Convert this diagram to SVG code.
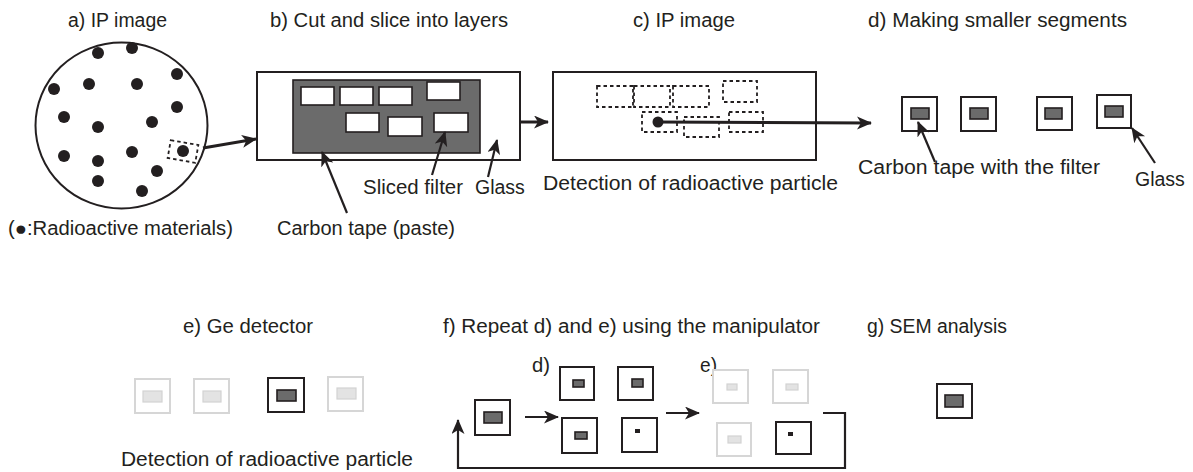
<svg xmlns="http://www.w3.org/2000/svg" width="1193" height="472" viewBox="0 0 1193 472">
<defs>
<style>
text{font-family:"Liberation Sans",Arial,sans-serif;font-size:19.5px;fill:#231f20}
.ln{fill:none;stroke:#231f20;stroke-width:2}
.ar{fill:none;stroke:#231f20;stroke-width:2.2;marker-end:url(#ah)}
.ar3{fill:none;stroke:#231f20;stroke-width:3;marker-end:url(#ah)}
.dash{fill:none;stroke:#231f20;stroke-width:1.8;stroke-dasharray:3.5 3}
.dot{fill:#231f20}
.glass{fill:#fff;stroke:#231f20;stroke-width:2}
.tape{fill:#6b6b6b;stroke:#231f20;stroke-width:1.6}
.slice{fill:#fff;stroke:#231f20;stroke-width:1.6}
.gl{fill:#fff;stroke:#d6d6d6;stroke-width:2}
.tl{fill:#e3e3e3;stroke:#d2d2d2;stroke-width:1.2}
</style>
<marker id="ah" markerUnits="userSpaceOnUse" markerWidth="16" markerHeight="14" refX="14" refY="6.5" orient="auto">
<path d="M0,0 L15,6.5 L0,13 L4,6.5 Z" fill="#231f20"/>
</marker>
</defs>

<g id="a-ip-image">
<text x="68" y="27" textLength="99" lengthAdjust="spacingAndGlyphs">a) IP image</text>
<ellipse cx="121.5" cy="125.5" rx="86" ry="83" class="ln"/>
<circle cx="98" cy="53" r="6" class="dot"/>
<circle cx="132" cy="48" r="6" class="dot"/>
<circle cx="177" cy="74" r="6" class="dot"/>
<circle cx="54" cy="89" r="6" class="dot"/>
<circle cx="89" cy="84" r="6" class="dot"/>
<circle cx="137" cy="84" r="6" class="dot"/>
<circle cx="177" cy="107" r="6" class="dot"/>
<circle cx="64" cy="117" r="6" class="dot"/>
<circle cx="98" cy="127" r="6" class="dot"/>
<circle cx="152" cy="122" r="6" class="dot"/>
<circle cx="64" cy="156" r="6" class="dot"/>
<circle cx="98" cy="161" r="6" class="dot"/>
<circle cx="132" cy="152" r="6" class="dot"/>
<circle cx="183" cy="151" r="6" class="dot"/>
<circle cx="157" cy="171" r="6" class="dot"/>
<circle cx="98" cy="181" r="6" class="dot"/>
<circle cx="142" cy="191" r="6" class="dot"/>
<rect x="169" y="142.5" width="28" height="18" transform="rotate(10 183 151.5)" class="dash"/>
<text x="8" y="235" textLength="225" lengthAdjust="spacingAndGlyphs">(●:Radioactive materials)</text>
</g>

<g id="b-cut-slice">
<text x="270" y="27" textLength="238" lengthAdjust="spacingAndGlyphs">b) Cut and slice into layers</text>
<rect x="257" y="72" width="263" height="88" class="glass"/>
<rect x="293" y="80" width="187" height="73" class="tape"/>
<rect x="301" y="87" width="33" height="18" class="slice"/>
<rect x="340" y="87" width="33" height="18" class="slice"/>
<rect x="379" y="87" width="33" height="18" class="slice"/>
<rect x="427" y="82" width="33" height="18" class="slice"/>
<rect x="346" y="113" width="33" height="19" class="slice"/>
<rect x="388" y="117" width="34" height="19" class="slice"/>
<rect x="434" y="113" width="34" height="19" class="slice"/>
<text x="363" y="194" textLength="100" lengthAdjust="spacingAndGlyphs">Sliced filter</text>
<text x="475" y="194">Glass</text>
<text x="277" y="235" textLength="178" lengthAdjust="spacingAndGlyphs">Carbon tape (paste)</text>
</g>

<g id="c-ip-image">
<text x="633" y="27" textLength="102" lengthAdjust="spacingAndGlyphs">c) IP image</text>
<rect x="553" y="72" width="263" height="88" class="glass"/>
<rect x="597" y="86" width="36" height="21" class="dash"/>
<rect x="634" y="86" width="36" height="21" class="dash"/>
<rect x="673" y="86" width="36" height="21" class="dash"/>
<rect x="723" y="81" width="34" height="21" class="dash"/>
<rect x="642" y="112" width="35" height="20" class="dash"/>
<rect x="684" y="117" width="35" height="20" class="dash"/>
<rect x="729" y="112" width="34" height="20" class="dash"/>
<circle cx="658" cy="122" r="5.5" class="dot"/>
<text x="543" y="190" textLength="295" lengthAdjust="spacingAndGlyphs">Detection of radioactive particle</text>
</g>

<g id="d-segments">
<text x="868" y="27" textLength="259" lengthAdjust="spacingAndGlyphs">d) Making smaller segments</text>
<rect x="902" y="97" width="35" height="34" class="glass"/>
<rect x="911" y="108" width="18" height="11" class="tape"/>
<rect x="961" y="97" width="35" height="34" class="glass"/>
<rect x="970" y="108" width="18" height="11" class="tape"/>
<rect x="1037" y="97" width="35" height="33" class="glass"/>
<rect x="1045" y="108" width="17" height="11" class="tape"/>
<rect x="1097" y="95" width="34" height="33" class="glass"/>
<rect x="1105" y="106" width="18" height="11" class="tape"/>
<text x="858" y="174" textLength="242" lengthAdjust="spacingAndGlyphs">Carbon tape with the filter</text>
<text x="1135" y="186">Glass</text>
</g>

<g id="e-ge-detector">
<text x="183" y="333" textLength="130" lengthAdjust="spacingAndGlyphs">e) Ge detector</text>
<rect x="135" y="379" width="35" height="34" class="gl"/>
<rect x="143" y="391" width="19" height="11" class="tl"/>
<rect x="194" y="379" width="35" height="34" class="gl"/>
<rect x="203" y="391" width="18" height="11" class="tl"/>
<rect x="268" y="378" width="36" height="34" class="glass"/>
<rect x="277" y="390" width="19" height="11" class="tape"/>
<rect x="328" y="377" width="35" height="34" class="gl"/>
<rect x="337" y="388" width="19" height="11" class="tl"/>
<text x="121" y="466" textLength="292" lengthAdjust="spacingAndGlyphs">Detection of radioactive particle</text>
</g>

<g id="f-repeat">
<text x="443" y="333" textLength="377" lengthAdjust="spacingAndGlyphs">f) Repeat d) and e) using the manipulator</text>
<text x="532" y="372" textLength="18" lengthAdjust="spacingAndGlyphs">d)</text>
<text x="700" y="372" textLength="17" lengthAdjust="spacingAndGlyphs">e)</text>
<rect x="475" y="400" width="35" height="35" class="glass"/>
<rect x="484" y="412" width="18" height="11" class="tape"/>
<rect x="560" y="367" width="34" height="33" class="glass"/>
<rect x="573" y="380" width="11" height="7" class="tape"/>
<rect x="618" y="367" width="35" height="33" class="glass"/>
<rect x="632" y="379" width="11" height="8" class="tape"/>
<rect x="562" y="418" width="35" height="35" class="glass"/>
<rect x="575" y="432" width="12" height="7" class="tape"/>
<rect x="622" y="418" width="35" height="34" class="glass"/>
<rect x="635" y="429" width="5" height="4" class="dot"/>
<rect x="713" y="370" width="35" height="33" class="gl"/>
<rect x="727" y="384" width="10" height="6" class="tl"/>
<rect x="773" y="370" width="35" height="33" class="gl"/>
<rect x="786" y="384" width="12" height="6" class="tl"/>
<rect x="717" y="423" width="34" height="33" class="gl"/>
<rect x="728" y="436" width="13" height="7" class="tl"/>
<rect x="776" y="422" width="35" height="32" class="glass"/>
<rect x="788" y="432" width="5" height="4" class="dot"/>
</g>

<g id="g-sem">
<text x="867" y="333" textLength="140" lengthAdjust="spacingAndGlyphs">g) SEM analysis</text>
<rect x="937" y="384" width="35" height="34" class="glass"/>
<rect x="945" y="395" width="18" height="12" class="tape"/>
</g>

<g id="connectors">
<path d="M203,148 L256,139" class="ar3"/>
<path d="M520,122 L548,122" class="ar3"/>
<path d="M658,122 L871,123" class="ar3"/>
<path d="M347,213 L322,152" class="ar"/>
<path d="M432,175 L445,132" class="ar"/>
<path d="M488,177 L497,140" class="ar"/>
<path d="M935,162 L918,122" class="ar"/>
<path d="M1155,163 L1132,128" class="ar"/>
<path d="M525,417 L558,417" class="ar"/>
<path d="M666,413 L699,413" class="ar"/>
<path d="M823,413 L845,413 L845,468 L458,468 L458,420" class="ar"/>
</g>
</svg>
